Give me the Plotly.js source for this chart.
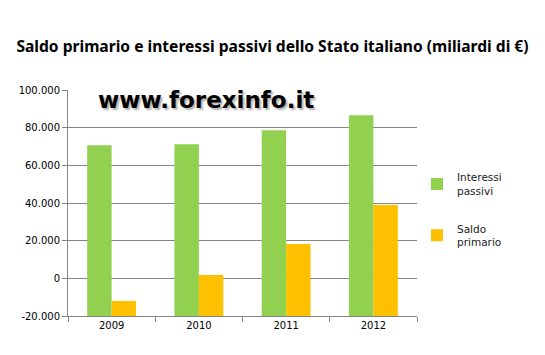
<!DOCTYPE html>
<html>
<head>
<meta charset="utf-8">
<script src="https://cdn.plot.ly/plotly-3.0.1.min.js"></script>
<style>html,body{margin:0;padding:0;background:#fff;}#chart{width:545px;height:355px;}</style>
</head>
<body>
<div id="chart"></div>
<script>
const years = ["2009", "2010", "2011", "2012"];
const interessiPassivi = [70700, 71200, 78600, 86600];
const saldoPrimario = [-12000, 1800, 18200, 38900];
const seriesNames = ["Interessi<br>passivi", "Saldo<br>primario"];
const tickVals = [-20000, 0, 20000, 40000, 60000, 80000, 100000];
const tickText = ["-20.000", "0", "20.000", "40.000", "60.000", "80.000", "100.000"];
const axisMin = -20000, axisMax = 100000;

const fromAxis = arr => arr.map(v => v - axisMin);

const traces = [
  {type: "bar", x: years, y: fromAxis(interessiPassivi), base: axisMin, name: seriesNames[0],
   marker: {color: "#92d050"}, legendgroup: "a"},
  {type: "bar", x: years, y: fromAxis(saldoPrimario), base: axisMin, name: seriesNames[1],
   marker: {color: "#ffc000"}, legendgroup: "b"}
];

const layout = {
  width: 545, height: 355,
  margin: {l: 68, r: 128, t: 90, b: 39},
  paper_bgcolor: "#fff", plot_bgcolor: "#fff",
  title: {text: "<b>Saldo primario e interessi passivi dello Stato italiano (miliardi di €)</b>",
          font: {family: "Noto Sans", size: 15.6, color: "#000"}, x: 0.5, xanchor: "center", y: 0.87, yanchor: "middle"},
  barmode: "group", bargap: 0.44, bargroupgap: 0,
  xaxis: {type: "category", showline: true, linecolor: "#868686", linewidth: 1,
          ticks: "outside", tickson: "boundaries", ticklen: 5, tickcolor: "#868686",
          tickfont: {family: "DejaVu Sans", size: 10, color: "#000"}, showgrid: false},
  yaxis: {range: [axisMin, axisMax], tickvals: tickVals, ticktext: tickText,
          showline: true, linecolor: "#868686", linewidth: 1,
          ticks: "outside", ticklen: 5, tickcolor: "#868686",
          showgrid: true, gridcolor: "#868686", gridwidth: 1, zeroline: false,
          tickfont: {family: "DejaVu Sans", size: 10, color: "#000"}},
  legend: {x: 1.0, xanchor: "left", y: 0.47, yanchor: "middle",
           font: {family: "DejaVu Sans", size: 10.5, color: "#222"},
           traceorder: "grouped", tracegroupgap: 21, itemwidth: 30},
  showlegend: true,
  annotations: [
    {text: "<b>www.forexinfo.it</b>", xref: "paper", yref: "paper", x: 0.08, y: 0.955, xanchor: "left", yanchor: "middle",
     showarrow: false,
     font: {family: "DejaVu Sans", size: 23, color: "#000", shadow: "2px 2px 2px #b0b0b0"}}
  ]
};

Plotly.newPlot("chart", traces, layout, {displayModeBar: false, staticPlot: true});
</script>
</body>
</html>
